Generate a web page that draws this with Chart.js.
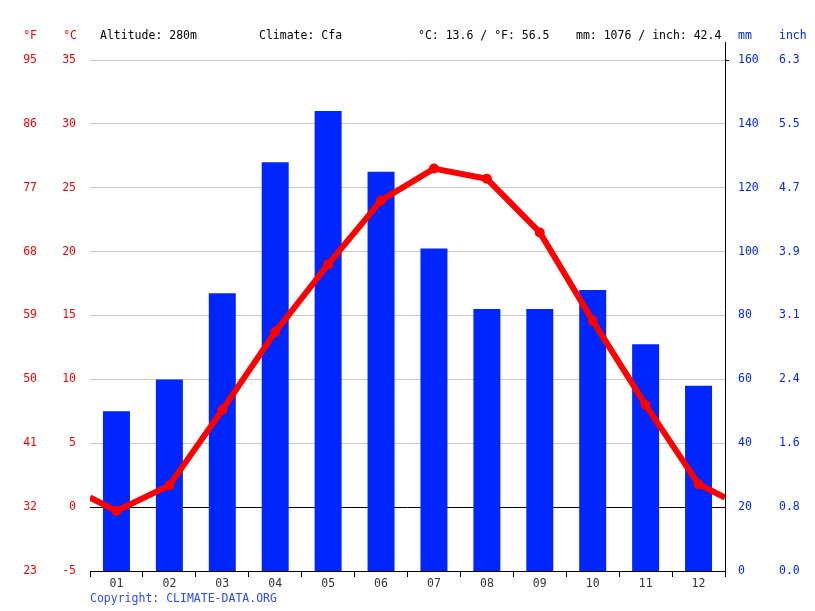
<!DOCTYPE html>
<html lang="en">
  <head>
    <meta charset="UTF-8" />
    <title>Climate chart</title>
    <script src="https://cdn.jsdelivr.net/npm/chart.js"></script>
    <style>
      html, body { margin: 0; padding: 0; background: #fff; }
      #wrap { width: 815px; height: 611px; }
    </style>
  </head>
  <body>
    <div id="wrap"><canvas id="climateChart" width="815" height="611"></canvas></div>

    <script>
      // data
      const months = ["01", "02", "03", "04", "05", "06", "07", "08", "09", "10", "11", "12"];
      const precipMm = [50, 60, 87, 128, 144, 125, 101, 82, 82, 88, 71, 58];
      const tempC = [-0.3, 1.7, 7.6, 13.7, 19.0, 24.0, 26.5, 25.7, 21.5, 14.6, 8.0, 1.8];

      const headerTexts = [
        { text: "Altitude: 280m", x: 100 },
        { text: "Climate: Cfa", x: 259 },
        { text: "°C: 13.6 / °F: 56.5", x: 418 },
        { text: "mm: 1076 / inch: 42.4", x: 576 },
      ];
      const copyright = "Copyright: CLIMATE-DATA.ORG";

      const FONT = "'DejaVu Sans Mono', 'Liberation Mono', monospace";
      const RED = "#ff0000";
      const BLUE = "#0026ff";

      // line runs to the plot edges, half way between december and january
      const edgeTemp = (tempC[11] + tempC[0]) / 2;
      const lineData = [{ x: 0.5, y: edgeTemp }]
        .concat(tempC.map((t, i) => ({ x: i + 1, y: t })))
        .concat([{ x: 12.5, y: edgeTemp }]);
      const pointSizes = lineData.map((p, i) => (i === 0 || i === lineData.length - 1 ? 0 : 5));

      // header, unit labels and copyright
      const textPlugin = {
        id: "texts",
        afterDraw(chart) {
          const ctx = chart.ctx;
          const area = chart.chartArea;
          ctx.save();
          ctx.font = "11.5px " + FONT;
          ctx.textBaseline = "middle";
          ctx.textAlign = "left";
          ctx.fillStyle = "#000";
          headerTexts.forEach((h) => ctx.fillText(h.text, h.x, 36));

          ctx.fillStyle = RED;
          ctx.textAlign = "right";
          ctx.fillText("°F", 37, 36);
          ctx.fillText("°C", 77, 36);

          ctx.fillStyle = BLUE;
          ctx.textAlign = "left";
          ctx.fillText("mm", 738, 36);
          ctx.fillText("inch", 779, 36);

          ctx.fillStyle = "#2a4bff";
          ctx.fillText(copyright, 90, 599);

          // right axis line runs a bit past the plot
          ctx.strokeStyle = "#000";
          ctx.lineWidth = 1;
          ctx.beginPath();
          ctx.moveTo(area.right + 0.5, 42);
          ctx.lineTo(area.right + 0.5, area.bottom + 6);
          ctx.moveTo(area.right, area.top + 0.5);
          ctx.lineTo(area.right + 4, area.top + 0.5);
          ctx.stroke();
          ctx.restore();
        },
      };

      new Chart(document.getElementById("climateChart"), {
        data: {
          labels: months,
          datasets: [
            {
              type: "line",
              label: "Temperature",
              data: lineData,
              xAxisID: "xLine",
              yAxisID: "yC",
              borderColor: RED,
              backgroundColor: RED,
              borderWidth: 6,
              pointRadius: pointSizes,
              pointBackgroundColor: RED,
              pointBorderWidth: 0,
              tension: 0,
              order: 0,
            },
            {
              type: "bar",
              label: "Precipitation",
              data: precipMm,
              xAxisID: "x",
              yAxisID: "yMm",
              backgroundColor: BLUE,
              grouped: false,
              barPercentage: 0.51,
              categoryPercentage: 1,
              order: 1,
            },
          ],
        },
        options: {
          responsive: false,
          animation: false,
          layout: { padding: { top: 60, bottom: 16, left: 0, right: 0 } },
          plugins: {
            legend: { display: false },
            tooltip: { enabled: false },
          },
          scales: {
            x: {
              type: "category",
              offset: true,
              grid: {
                display: true,
                offset: true,
                drawOnChartArea: false,
                drawTicks: true,
                tickLength: 6,
                color: "#000",
              },
              border: { display: true, color: "#000" },
              ticks: { color: "#333", font: { family: FONT, size: 11.5 }, padding: 0 },
              afterFit: (s) => { s.height = 24; },
            },
            xLine: {
              type: "linear",
              display: false,
              min: 0.5,
              max: 12.5,
            },
            yC: {
              position: "left",
              min: -5,
              max: 35,
              grid: {
                drawTicks: false,
                color: (c) => (c.tick && c.tick.value === 0 ? "#000" : "#c8c8c8"),
              },
              border: { display: false },
              ticks: {
                stepSize: 5,
                color: RED,
                padding: 14,
                font: { family: FONT, size: 11.5 },
              },
              afterFit: (s) => { s.width = 49; },
            },
            yF: {
              position: "left",
              min: -5,
              max: 35,
              grid: { display: false, drawTicks: false },
              border: { display: false },
              ticks: {
                stepSize: 5,
                color: RED,
                padding: 4,
                font: { family: FONT, size: 11.5 },
                callback: (v) => Math.round(v * 9 / 5 + 32),
              },
              afterFit: (s) => { s.width = 41; },
            },
            yMm: {
              position: "right",
              min: 0,
              max: 160,
              grid: { display: false, drawTicks: false },
              border: { display: false },
              ticks: {
                stepSize: 20,
                color: BLUE,
                padding: 13,
                font: { family: FONT, size: 11.5 },
              },
              afterFit: (s) => { s.width = 45; },
            },
            yIn: {
              position: "right",
              min: 0,
              max: 160,
              grid: { display: false, drawTicks: false },
              border: { display: false },
              ticks: {
                stepSize: 20,
                color: BLUE,
                padding: 9,
                font: { family: FONT, size: 11.5 },
                callback: (v) => (v / 25.4).toFixed(1),
              },
              afterFit: (s) => { s.width = 45; },
            },
          },
        },
        plugins: [textPlugin],
      });
    </script>
  </body>
</html>
